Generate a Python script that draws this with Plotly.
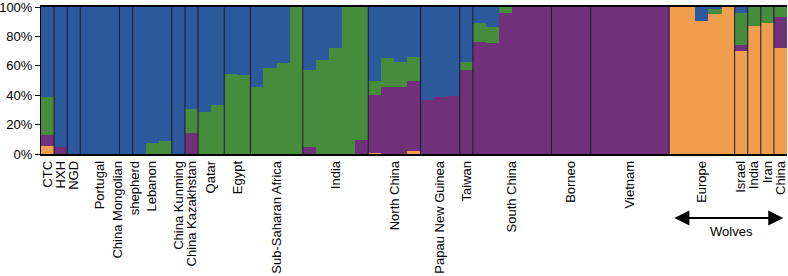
import plotly.graph_objects as go

populations = ["CTC", "HXH", "NGD", "Portugal", "China Mongolian<br>shepherd", "Lebanon",
               "China Kunming", "China Kazakhstan", "Qatar", "Egypt", "Sub-Saharan Africa",
               "India", "North China", "Papau New Guinea", "Taiwan", "South China", "Borneo",
               "Vietnam", "Europe", "Israel", "India", "Iran", "China"]
counts = [1, 1, 1, 3, 1, 3, 1, 1, 2, 2, 4, 5, 4, 3, 1, 6, 3, 6, 5, 1, 1, 1, 1]

# ancestry proportions (%) per individual, stacked bottom to top
orange = [5.5, 0, 0, 0, 0, 0, 0, 0, 0, 0, 0, 0, 0, 0, 0, 0, 0, 0, 0, 0,
          0, 0, 0, 0, 0, 1, 0, 0, 2, 0, 0, 0, 0, 0, 0, 0, 0, 0, 0, 0,
          0, 0, 0, 0, 0, 0, 0, 0, 100, 100, 90.5, 95.5, 100, 70, 87, 89, 72]
purple = [7.5, 5, 0, 0, 0, 0, 0, 0, 0, 0, 0, 14, 0, 0, 0, 0, 0, 0, 0, 0,
          5, 0, 0, 0, 9.5, 39, 45.5, 45.5, 48, 36.7, 38.8, 39.5, 57, 76, 75.5, 96, 100, 100, 100, 100,
          100, 100, 100, 100, 100, 100, 100, 100, 0, 0, 0, 0, 0, 4, 0, 0, 21]
green = [26, 0, 0, 0, 0, 0, 0, 0, 7.5, 9, 0, 16.5, 28.5, 33, 54.5, 54, 45.5, 58.5, 62, 100,
         52, 64, 72, 100, 90.5, 10, 19.5, 17, 16, 0, 0, 0, 5.5, 13, 11, 4, 0, 0, 0, 0,
         0, 0, 0, 0, 0, 0, 0, 0, 0, 0, 0, 3.5, 0, 22, 13, 11, 7]
blue = [61, 95, 100, 100, 100, 100, 100, 100, 92.5, 91, 100, 69.5, 71.5, 67, 45.5, 46, 54.5, 41.5, 38, 0,
        43, 36, 28, 0, 0, 50, 35, 37.5, 34, 63.3, 61.2, 60.5, 37.5, 11, 13.5, 0, 0, 0, 0, 0,
        0, 0, 0, 0, 0, 0, 0, 0, 0, 0, 9.5, 1, 0, 4, 0, 0, 0]

n = sum(counts)
x = list(range(n))

series = [("Wolf", orange, "#EE9E4C"), ("East Asia", purple, "#70307A"),
          ("Middle East/Africa", green, "#478B3D"), ("Europe", blue, "#2C589C")]

fig = go.Figure()
for name, vals, col in series:
    fig.add_trace(go.Bar(x=x, y=vals, name=name, marker=dict(color=col, line=dict(width=0)),
                         width=1.0, showlegend=False))

# population centers and boundaries
tickvals = []
bounds = []
start = 0
for c in counts:
    tickvals.append(start + c / 2 - 0.5)
    start += c
    bounds.append(start - 0.5)

shapes = []
for b in bounds[:-1]:
    shapes.append(dict(type="line", xref="x", yref="paper", x0=b, x1=b, y0=0, y1=1,
                       line=dict(color="#1a1a30", width=1)))

fig.update_layout(
    barmode="stack", bargap=0,
    width=788, height=276,
    margin=dict(l=41, r=1, t=7, b=122, autoexpand=False),
    paper_bgcolor="white", plot_bgcolor="white",
    font=dict(family="Liberation Sans, Arial, sans-serif", size=13, color="black"),
    shapes=shapes,
)
fig.update_xaxes(range=[-0.5, n - 0.5], tickmode="array", tickvals=tickvals, ticktext=populations,
                 tickangle=-90, ticks="", showline=True, linecolor="black", linewidth=1.5,
                 mirror=True, showgrid=False, zeroline=False, tickfont=dict(size=13),
                 automargin=False, ticklabeloverflow="allow")
fig.update_yaxes(range=[0, 100], tickmode="array", tickvals=[0, 20, 40, 60, 80, 100],
                 ticktext=["0%", "20%", "40%", "60%", "80%", "100%"], ticks="outside", ticklen=5,
                 tickcolor="black", showline=True, linecolor="black", linewidth=1,
                 showgrid=False, zeroline=False, tickfont=dict(size=13), automargin=False,
                 ticklabeloverflow="allow")

fig.add_annotation(xref="x domain", yref="y domain", axref="x domain", ayref="y domain",
                   x=0.995, y=-0.435, ax=0.847, ay=-0.435, text="", showarrow=True,
                   arrowhead=2, arrowside="end+start", arrowsize=1.5, arrowwidth=2, arrowcolor="black")
fig.add_annotation(xref="x domain", yref="y domain", x=0.925, y=-0.53, text="Wolves", showarrow=False,
                   font=dict(size=13, color="black"), xanchor="center", yanchor="middle")

fig.write_html("out.html", config={"displayModeBar": False},
               post_script="document.body.style.margin='0';document.body.style.overflow='hidden';")
